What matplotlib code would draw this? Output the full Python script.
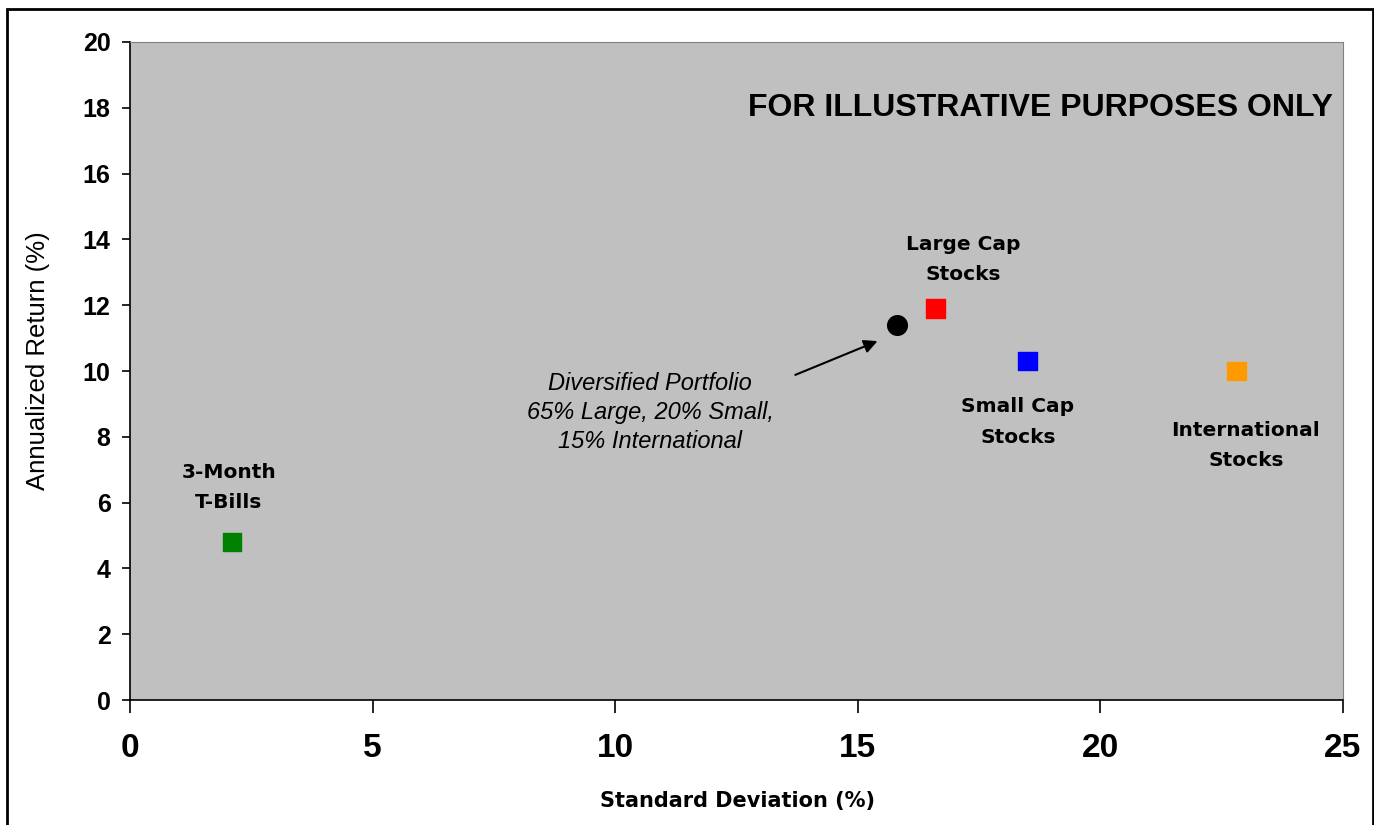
import matplotlib.pyplot as plt
from matplotlib.patches import Rectangle

plt.rcParams['font.family'] = ['Liberation Sans', 'DejaVu Sans']

# risk / return of each asset class (%)
assets = ["3-Month\nT-Bills", "Large Cap\nStocks", "Small Cap\nStocks", "International\nStocks"]
std_dev = [2.1, 16.6, 18.5, 22.8]
ann_return = [4.8, 11.9, 10.3, 10.0]
colors = ["#008000", "#FF0000", "#0000FF", "#FF9900"]

# blended portfolio
port_std = 15.8
port_return = 11.4
port_label = "Diversified Portfolio\n65% Large, 20% Small,\n15% International"

x_ticks = [0, 5, 10, 15, 20, 25]
y_ticks = [0, 2, 4, 6, 8, 10, 12, 14, 16, 18, 20]

fig = plt.figure(figsize=(13.74, 8.25), dpi=100)
ax = fig.add_axes([0.0946, 0.1515, 0.8828, 0.7976])
ax.set_facecolor("#C0C0C0")

# outer frame around the chart (bottom edge runs off the page)
fig.patches.append(Rectangle((7 / 1374, -0.05), 1366 / 1374, 1.05 - 9 / 825,
                             transform=fig.transFigure, fill=False,
                             edgecolor="black", linewidth=2))

ax.scatter(std_dev, ann_return, marker="s", s=180, c=colors, zorder=3)
ax.scatter([port_std], [port_return], marker="o", s=200, c="black", zorder=3)

# asset labels
offsets = [(-0.06, 1.66), (0.57, 1.5), (-0.2, -1.85), (0.2, -2.26)]
for name, x, y, (dx, dy) in zip(assets, std_dev, ann_return, offsets):
    ax.text(x + dx, y + dy, name, ha="center", va="center", fontsize=14.5,
            fontweight="bold", family="DejaVu Sans", linespacing=1.75)

ax.text(10.72, 8.75, port_label, ha="center", va="center", fontsize=17,
        fontstyle="italic", linespacing=1.33)
ax.annotate("", xy=(15.46, 10.94), xytext=(13.66, 9.85),
            arrowprops=dict(arrowstyle="-|>", color="black", lw=1.5,
                            mutation_scale=20))

ax.text(24.8, 17.98, "FOR ILLUSTRATIVE PURPOSES ONLY", ha="right", va="center",
        fontsize=23, fontweight="bold")

ax.set_xlim(0, 25)
ax.set_ylim(0, 20)
ax.set_xticks(x_ticks)
ax.set_yticks(y_ticks)
for lab in ax.get_xticklabels():
    lab.set_fontweight("bold")
for lab in ax.get_yticklabels():
    lab.set_fontweight("bold")
ax.tick_params(axis="x", direction="out", length=9, width=1.2, labelsize=24, pad=15)
ax.tick_params(axis="y", direction="out", length=6, width=1.2, labelsize=18, pad=8)

ax.spines["left"].set_linewidth(1.2)
ax.spines["bottom"].set_linewidth(1.2)
ax.spines["top"].set_color("#808080")
ax.spines["right"].set_color("#808080")

fig.text(737 / 1374, 1 - 801 / 825, "Standard Deviation (%)", ha="center",
         va="center", fontsize=15, fontweight="bold", family="DejaVu Sans")
fig.text(38 / 1374, 1 - 361 / 825, "Annualized Return (%)", ha="center",
         va="center", rotation=90, fontsize=18.5)

fig.savefig("out.png", dpi=100)
